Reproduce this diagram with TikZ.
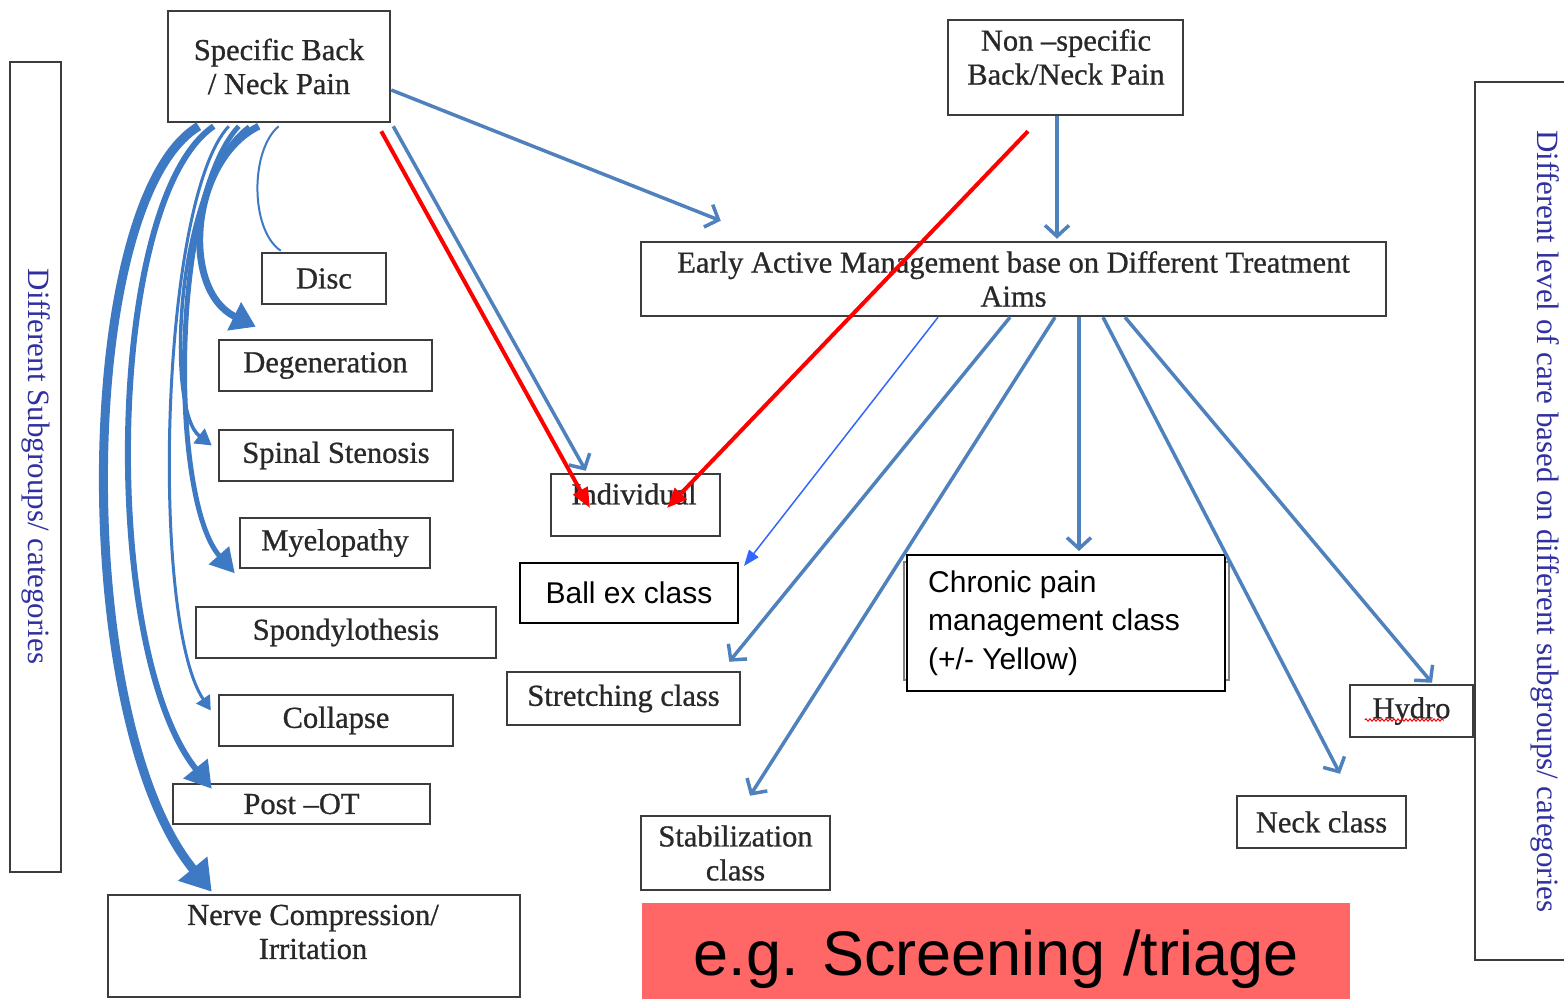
\documentclass[tikz,border=0pt]{standalone}
\usepackage{fontspec}
\setmainfont{Liberation Serif}
\newfontfamily\boxserif{Liberation Serif}[FakeBold=0.8]
\newfontfamily\arialf{Liberation Sans}
\usetikzlibrary{arrows.meta,calc,decorations.pathmorphing}
\definecolor{arrblue}{RGB}{79,129,189}
\definecolor{curvblue}{RGB}{62,122,196}
\definecolor{thinblue}{RGB}{51,102,255}
\definecolor{boxgray}{RGB}{60,60,60}
\definecolor{txtgray}{RGB}{40,40,40}
\definecolor{labblue}{RGB}{48,48,160}
\definecolor{triagered}{RGB}{255,102,102}
\begin{document}
\begin{tikzpicture}[x=1pt,y=-1pt,
  sbox/.style={draw=boxgray, line width=2.5pt, rectangle, inner sep=0pt, text=txtgray, font=\boxserif\fontsize{30.5}{34}\selectfont, align=center},
  abox/.style={draw=black, line width=2pt, rectangle, inner sep=0pt, fill=white, font=\arialf\fontsize{30}{38.5}\selectfont},
  txt/.style={inner sep=0pt, text=txtgray, font=\boxserif\fontsize{30.5}{34}\selectfont, align=center},
  barb/.style={draw=arrblue, line width=3.5pt, -{Straight Barb[length=11pt,width=24pt]}},
  redarr/.style={draw=red, line width=4pt, -{Triangle[length=20pt,width=16pt]}},
  curv/.style={draw=curvblue},
  vlab/.style={text=labblue, font=\fontsize{31}{34}\selectfont, rotate=-90, inner sep=0pt}
]
\useasboundingbox (0,0) rectangle (1564,999);

% side bars
\node[sbox, minimum width=51pt, minimum height=810pt] (leftbar) at (35.5,467) {};
\node[vlab] (leftlab) at (36,466.5) {Different Subgroups/ categories};
\node[sbox, minimum width=105pt, minimum height=878pt] (rightbar) at (1527.5,521) {};
\node[vlab] (rightlab) at (1545,521.5) {Different level of care based on different subgroups/ categories};

% top boxes
\node[sbox, minimum width=222pt, minimum height=111pt] (spec) at (279,66.5) {Specific Back\\/ Neck Pain};
\node[sbox, minimum width=235pt, minimum height=95pt] (nonspec) at (1065.5,67.5) {};
\node[txt] (nonspect) at (1066,57) {Non –specific\\Back/Neck Pain};
\node[sbox, minimum width=745pt, minimum height=74pt] (early) at (1013.5,279) {Early Active Management base on Different Treatment\\Aims};

% left column
\node[sbox, minimum width=124pt, minimum height=51pt] (disc) at (324,278.5) {Disc};
\node[sbox, minimum width=213pt, minimum height=51pt] (degen) at (325.5,365.5) {Degeneration};
\node[sbox, minimum width=234pt, minimum height=51pt] (spinal) at (336,455.5) {Spinal Stenosis};
\node[sbox, minimum width=190pt, minimum height=50pt] (myelo) at (335,543) {Myelopathy};
\node[sbox, minimum width=300pt, minimum height=51pt] (spondy) at (346,632.5) {Spondylothesis};
\node[sbox, minimum width=234pt, minimum height=51pt] (collapse) at (336,720.5) {Collapse};
\node[sbox, minimum width=257pt, minimum height=40pt] (postot) at (301.5,804) {Post –OT};
\node[sbox, minimum width=412pt, minimum height=102pt] (nerve) at (314,946) {};
\node[txt] (nervet) at (313,932) {Nerve Compression/\\Irritation};

% middle
\node[sbox, minimum width=169pt, minimum height=62pt] (indiv) at (635.5,505) {};
\node[txt] (indivt) at (634,494) {Individual};
\node[abox, minimum width=218pt, minimum height=60pt] (ball) at (629,593) {Ball ex class};
\node[sbox, minimum width=233pt, minimum height=53pt] (stretch) at (623.5,698.5) {Stretching class};
\node[sbox, minimum width=189pt, minimum height=74pt] (stab) at (735.5,853) {Stabilization\\class};

% right
\node[draw=gray, line width=2pt, minimum width=325pt, minimum height=118pt, inner sep=0pt] (chronicsh) at (1066.5,621) {};
\node[abox, minimum width=318pt, minimum height=136pt] (chronic) at (1066,623) {};
\node[anchor=west, align=left, inner sep=0pt, font=\arialf\fontsize{30}{38.5}\selectfont] (chronict) at (928,623) {Chronic pain\\management class\\(+/- Yellow)};
\node[sbox, minimum width=169pt, minimum height=52pt] (neck) at (1321.5,822) {Neck class};
\node[sbox, minimum width=123pt, minimum height=52pt] (hydro) at (1411.5,711) {Hydro};
\draw[red, line width=1pt, decorate, decoration={snake, amplitude=1.2pt, segment length=4pt}] ($(hydro.west)+(16,9)$) -- ($(hydro.west)+(95,9)$);

% triage banner
\node[fill=triagered, minimum width=708pt, minimum height=96pt, inner sep=0pt] (triage) at (996,951) {};
\node[anchor=base, inner sep=0pt, font=\arialf\fontsize{63}{70}\selectfont] (triaget) at (996,975) {e.g. Screening /triage};

% straight arrows
\draw[barb] ($(spec.east)+(0,23.5)$) -- ($(early.north west)+(81,-20)$);
\draw[barb] ($(spec.south east)+(2,3)$) -- ($(indiv.north west)+(36,-2)$);
\draw[barb] ($(nonspec.south)+(-8.5,0)$) -- ($(early.north)+(43.5,-2)$);
\draw[barb] ($(early.south)+(-3.5,0)$) -- ($(stretch.north east)+(-12,-9)$);
\draw[barb] ($(early.south)+(41.5,0)$) -- ($(stab.north)+(14.5,-19)$);
\draw[barb] ($(early.south)+(65.5,0)$) -- ($(chronic.north)+(13,-3)$);
\draw[barb] ($(early.south)+(89.5,0)$) -- ($(neck.north)+(18.5,-21)$);
\draw[barb] ($(early.south)+(111.5,0)$) -- ($(hydro.north)+(20.5,-1)$);
\draw[draw=thinblue, line width=1.5pt, -{Triangle[length=16pt,width=12pt]}] ($(early.south)+(-75.5,0)$) -- ($(ball.north east)+(5,4)$);

% red arrows
\draw[redarr] ($(spec.south east)+(-10,8)$) -- ($(indiv.center)+(-45.5,3)$);
\draw[redarr] ($(nonspec.south)+(-37.5,15)$) -- ($(indiv.center)+(31.5,3)$);

% curved arrows from specific pain
\draw[curv, line width=2pt] ($(spec.south west)+(112,3)$) .. controls (250,150) and (250,230) .. ($(disc.north west)+(20,-1)$);
\draw[curv, line width=7pt, -{Triangle[length=24pt,width=30pt]}] ($(spec.south west)+(92,3)$) .. controls (190,160) and (180,290) .. ($(degen.north west)+(38,-12)$);
\draw[curv, line width=3.5pt, -{Triangle[length=16pt,width=18pt]}] ($(spec.south west)+(82,3)$) .. controls (175,180) and (165,410) .. ($(spinal.west)+(-6,-10)$);
\draw[curv, line width=5pt, -{Triangle[length=24pt,width=26pt]}] ($(spec.south west)+(72,3)$) .. controls (170,200) and (170,500) .. ($(myelo.south west)+(-4,4)$);
\draw[curv, line width=3pt, -{Triangle[length=14pt,width=16pt]}] ($(spec.south west)+(62,3)$) .. controls (160,200) and (150,620) .. ($(collapse.west)+(-7,-10)$);
\draw[curv, line width=6pt, -{Triangle[length=26pt,width=30pt]}] ($(spec.south west)+(47,3)$) .. controls (105,200) and (100,650) .. ($(postot.north west)+(40,6)$);
\draw[curv, line width=9pt, -{Triangle[length=30pt,width=36pt]}] ($(spec.south west)+(32,3)$) .. controls (75,200) and (70,720) .. ($(nerve.north west)+(105,-2)$);
\end{tikzpicture}
\end{document}
